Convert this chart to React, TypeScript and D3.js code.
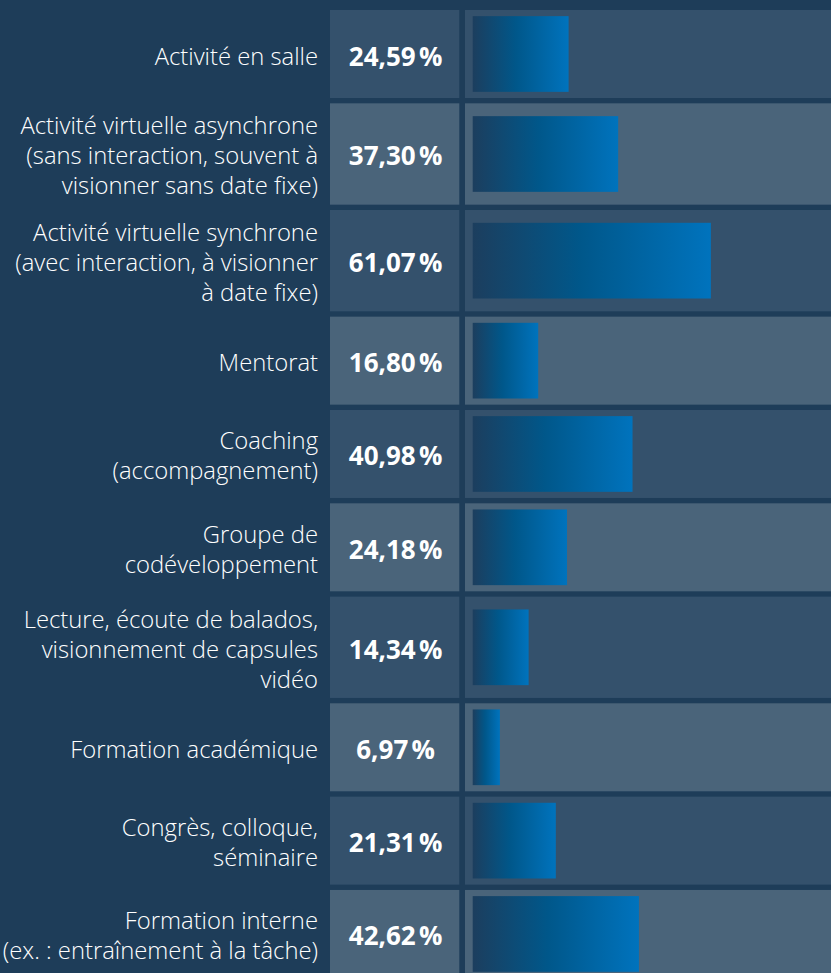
import React from "react";
import * as d3 from "d3";

const categories: string[] = [
  "Activité en salle",
  "Activité virtuelle asynchrone\n(sans interaction, souvent à\nvisionner sans date fixe)",
  "Activité virtuelle synchrone\n(avec interaction, à visionner\nà date fixe)",
  "Mentorat",
  "Coaching\n(accompagnement)",
  "Groupe de\ncodéveloppement",
  "Lecture, écoute de balados,\nvisionnement de capsules\nvidéo",
  "Formation académique",
  "Congrès, colloque,\nséminaire",
  "Formation interne\n(ex. : entraînement à la tâche)",
];

const values: number[] = [24.59, 37.3, 61.07, 16.8, 40.98, 24.18, 14.34, 6.97, 21.31, 42.62];

const W = 831;
const H = 973;
const BG = "#1e3d59";
const CELL_DARK = "#34516c";
const CELL_LIGHT = "#4a647a";

const fmt = (v: number) => v.toFixed(2).replace(".", ",") + "\u202F%";

export default function App() {
  const top = 10;
  const gap = 5.33;
  const rows = categories.map((c) => c.split("\n"));
  const heights = rows.map((l) => (l.length >= 3 ? 101.33 : 88));
  const ys: number[] = [];
  let acc = top;
  heights.forEach((h) => {
    ys.push(acc);
    acc += h + gap;
  });

  const valX0 = 330;
  const valX1 = 459.3;
  const barCellX = 465;
  const barX0 = 472.7;
  const x = d3.scaleLinear().domain([0, 100]).range([0, 390]);
  const barH = 75.7;
  const lineH = 30;

  return (
    <svg
      width={W}
      height={H}
      style={{ position: "absolute", left: 0, top: 0, display: "block" }}
    >
      <defs>
        <linearGradient id="barGrad" x1="0" x2="1" y1="0" y2="0">
          <stop offset="0%" stopColor="#1c3e5e" />
          <stop offset="45%" stopColor="#00578a" />
          <stop offset="100%" stopColor="#0073bd" />
        </linearGradient>
      </defs>
      <rect x={0} y={0} width={W} height={H} fill={BG} />
      {rows.map((lines, i) => {
        const y = ys[i];
        const h = heights[i];
        const cy = y + h / 2;
        const fill = i % 2 === 0 ? CELL_DARK : CELL_LIGHT;
        return (
          <g key={i}>
            <rect x={valX0} y={y} width={valX1 - valX0} height={h} fill={fill} />
            <rect x={barCellX} y={y} width={W - barCellX + 40} height={h} fill={fill} />
            <rect
              x={barX0}
              y={cy - barH / 2}
              width={x(values[i])}
              height={barH}
              fill="url(#barGrad)"
            />
            <text
              x={(valX0 + valX1) / 2 + 1}
              y={cy + 11.5}
              textAnchor="middle"
              fill="#ffffff"
              fontFamily="'Open Sans', sans-serif"
              fontWeight={700}
              fontSize={26}
              letterSpacing={2.3}
            >
              {fmt(values[i])}
            </text>
            {lines.map((ln, j) => (
              <text
                key={j}
                x={318}
                y={cy + (j - (lines.length - 1) / 2) * lineH + 10.5}
                textAnchor="end"
                fill="#ffffff"
                fontFamily="'Open Sans', sans-serif"
                fontWeight={300}
                fontSize={23.8}
              >
                {ln}
              </text>
            ))}
          </g>
        );
      })}
    </svg>
  );
}
